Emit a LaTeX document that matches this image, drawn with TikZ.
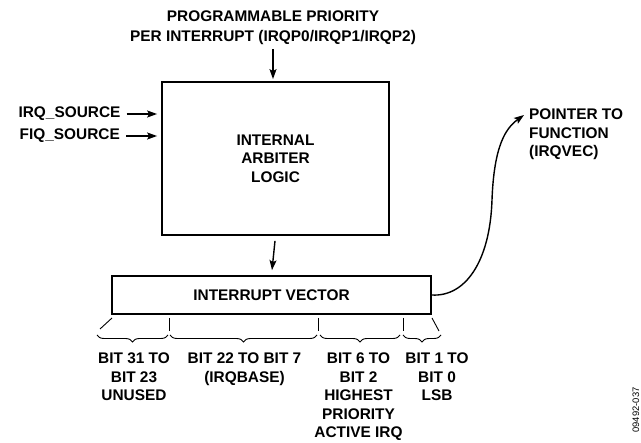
\documentclass[tikz,border=0pt]{standalone}
\usepackage{fontspec}
\setmainfont{Liberation Sans}
\usetikzlibrary{arrows.meta,decorations.pathreplacing}
\tikzset{
  lbl/.style={font=\fontsize{15.4}{18.6}\selectfont\bfseries, inner sep=0pt, align=center},
  boxnode/.style={draw, line width=1.8pt, lbl},
  arr/.style={line width=1.4pt, -{Stealth[length=10pt,width=7pt,inset=2pt]}},
  tickline/.style={line width=0.9pt},
  brc/.style={decorate, decoration={brace, mirror, amplitude=7pt}, line width=0.9pt},
}
\begin{document}
\begin{tikzpicture}[x=1pt,y=-1pt]
\useasboundingbox (0,0) rectangle (641,443);
% top label
\node[lbl, anchor=north, font=\fontsize{15.4}{20}\selectfont\bfseries] (prio) at (273,10.2)
  {PROGRAMMABLE PRIORITY\\PER INTERRUPT (IRQP0/IRQP1/IRQP2)};
% arbiter box
\node[boxnode, minimum width=227pt, minimum height=153pt] (arb) at (275.5,158.5)
  {INTERNAL\\ARBITER\\LOGIC};
% sources
\node[lbl, anchor=east] (irq) at (120.6,114) {IRQ\_SOURCE};
\node[lbl, anchor=east] (fiq) at (120,136) {FIQ\_SOURCE};
% vector box
\node[boxnode, minimum width=319pt, minimum height=38pt] (vec) at (271.5,295) {INTERRUPT VECTOR};
% pointer label
\node[lbl, anchor=north west, align=left] (ptr) at (529,108.5) {POINTER TO\\FUNCTION\\(IRQVEC)};
\coordinate (tip) at (524,115);
% arrows
\draw[arr, shorten <=4.5pt, shorten >=2pt] (prio.south) -- (prio.south |- arb.north);
\draw[arr, shorten <=6pt, shorten >=4pt] (irq.east) -- (arb.west |- irq.east);
\draw[arr, shorten <=6pt, shorten >=4pt] (fiq.east) -- (arb.west |- fiq.east);
\draw[arr, shorten <=5pt, shorten >=5pt] (arb.south) -- (vec.north);
\draw[arr] (vec.east) .. controls (465,297) and (490,262) .. (492,200)
  .. controls (494,145) and (506,128) .. (tip);
% ticks
\draw[tickline] (112,318) -- (100,329);
\draw[tickline] (169,318) -- (169,331);
\draw[tickline] (318,318) -- (318,331);
\draw[tickline] (403,318) -- (403,331);
\draw[tickline] (432,318) -- (439,331);
% braces
\draw[brc] (97,335) -- (168,335);
\draw[brc] (170,335) -- (317,335);
\draw[brc] (320,335) -- (400,335);
\draw[brc] (403,335) -- (441,335);
% bit labels
\node[lbl, anchor=north] (c1) at (134,352.5) {BIT 31 TO\\BIT 23\\UNUSED};
\node[lbl, anchor=north] (c2) at (244.5,352.5) {BIT 22 TO BIT 7\\(IRQBASE)};
\node[lbl, anchor=north] (c3) at (358.5,352.5) {BIT 6 TO\\BIT 2\\HIGHEST\\PRIORITY\\ACTIVE IRQ};
\node[lbl, anchor=north] (c4) at (437,352.5) {BIT 1 TO\\BIT 0\\LSB};
% figure id
\node[font=\fontsize{9.4}{11}\selectfont, rotate=90, inner sep=0pt] (fid) at (636,410) {09492-037};
\end{tikzpicture}
\end{document}
